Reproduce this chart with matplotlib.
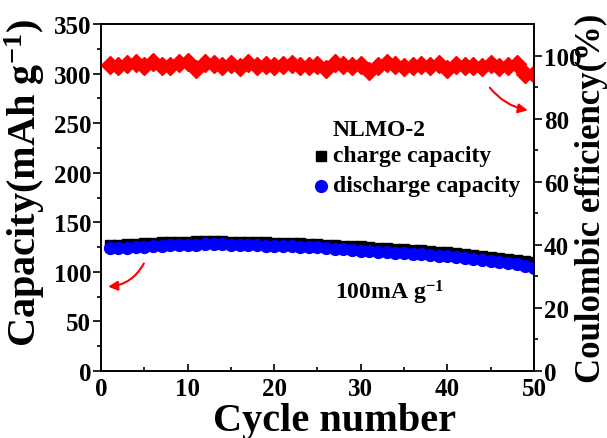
import matplotlib
matplotlib.use("Agg")
import matplotlib.pyplot as plt
import numpy as np

plt.rcParams['font.family'] = ['Liberation Serif', 'DejaVu Serif']
plt.rcParams['mathtext.fontset'] = 'custom'
plt.rcParams['mathtext.rm'] = 'Liberation Serif:bold'
plt.rcParams['mathtext.it'] = 'Liberation Serif:bold'
plt.rcParams['mathtext.bf'] = 'Liberation Serif:bold'

cycles = list(range(1, 51))
charge = [127, 127.5, 128, 128.5, 129, 129.5, 130, 130, 130.5, 130.5,
          131, 131, 131, 131, 130.5, 130.5, 130, 130, 130, 129.5,
          129.5, 129, 129, 128.5, 128, 127.5, 127, 126.5, 126, 126,
          125, 124.5, 124, 123.5, 123, 122.5, 122, 121, 120.5, 120,
          119, 118, 117, 116, 115, 114, 113, 112, 111, 109.5]
discharge = [124, 124, 124.5, 125, 125.5, 126, 126.5, 127, 127, 127.5,
             127.5, 128, 128, 128, 127.5, 127.5, 127, 127, 126.5, 126.5,
             126, 126, 125.5, 125, 124.8, 124, 123.5, 123, 122, 121.4,
             121, 120.5, 120, 119.5, 119, 118.5, 118, 117, 116.5, 116,
             115, 114, 113, 112, 111, 110, 109, 108, 106, 103.6]
efficiency = [97.0, 96.8, 97.3, 97.8, 96.8, 98.0, 96.8, 96.8, 97.6, 98.0,
              95.9, 97.8, 97.3, 96.6, 97.3, 96.3, 97.6, 96.8, 97.0, 96.8,
              97.0, 97.3, 96.8, 96.6, 97.0, 95.8, 97.8, 97.0, 96.8, 97.0,
              95.2, 96.6, 97.8, 97.0, 96.3, 96.6, 97.0, 96.8, 97.3, 95.9,
              97.0, 96.6, 96.8, 96.3, 97.3, 96.3, 96.8, 97.3, 94.1, 94.1]

fig = plt.figure(figsize=(6.07, 4.39), dpi=100)
ax = fig.add_axes([0.1664, 0.1526, 0.7133, 0.7904])
ax2 = ax.twinx()

ax.plot(cycles, charge, 's', color='black', ms=6.5, zorder=3)
ax.plot(cycles, discharge, 'o', color='blue', ms=8.5, zorder=4)
ax2.plot(cycles, efficiency, 'D', color='red', ms=9, mec='red')

ax.set_xlim(0, 50)
ax.set_ylim(0, 350)
ax2.set_ylim(0, 110)

ax.set_xticks(range(0, 51, 10))
ax.set_xticks(range(5, 50, 10), minor=True)
ax.set_yticks(range(0, 351, 50))
ax.set_yticks(range(25, 350, 50), minor=True)
ax2.set_yticks(range(0, 101, 20))
ax2.set_yticks(range(10, 110, 20), minor=True)

ax.tick_params(axis='x', which='both', direction='in', top=False, labelsize=18, pad=4)
ax.tick_params(axis='x', which='major', length=5, width=1.2)
ax.tick_params(axis='x', which='minor', length=3, width=1.2)
ax.tick_params(axis='y', which='major', direction='out', length=6, width=1.2, labelsize=18, pad=1)
ax.tick_params(axis='y', which='minor', direction='out', length=3, width=1.2)
ax2.tick_params(axis='y', which='major', direction='out', length=6, width=1.2, labelsize=18, pad=1)
ax2.tick_params(axis='y', which='minor', direction='out', length=3, width=1.2)
for lab in ax.get_xticklabels() + ax.get_yticklabels() + ax2.get_yticklabels():
    lab.set_fontweight('bold')
for sp in list(ax.spines.values()) + list(ax2.spines.values()):
    sp.set_linewidth(1.2)

ax.set_xlabel('Cycle number', fontsize=29, fontweight='bold')
ax.xaxis.set_label_coords(0.54, -0.088)
ax.set_ylabel(r'Capacity(mAh g$^{-1}$)', fontsize=29, fontweight='bold')
ax.yaxis.set_label_coords(-0.125, 0.545)
ax2.set_ylabel('Coulombic efficiency(%)', fontsize=25, fontweight='bold')
ax2.yaxis.set_label_coords(1.095, 0.5)

ax.text(26.8, 244, 'NLMO-2', fontsize=17, fontweight='bold', va='center')
ax.plot([25.4], [217], 's', color='black', ms=6.5)
ax.text(26.8, 217, 'charge capacity', fontsize=17, fontweight='bold', va='center')
ax.plot([25.4], [187], 'o', color='blue', ms=8.5)
ax.text(26.8, 187, 'discharge capacity', fontsize=17, fontweight='bold', va='center')
ax.text(27.0, 80, r'100mA g$^{-1}$', fontsize=17, fontweight='bold', va='center')

ax.annotate('', xy=(0.5, 85), xytext=(5.1, 111),
            arrowprops=dict(arrowstyle='-|>', color='red', lw=1.5,
                            mutation_scale=14, connectionstyle='arc3,rad=-0.3'))
ax2.annotate('', xy=(49.6, 82.5), xytext=(44.7, 90.5),
             arrowprops=dict(arrowstyle='-|>', color='red', lw=1.5,
                             mutation_scale=14, connectionstyle='arc3,rad=0.2'))

fig.savefig('out.png', dpi=100)
